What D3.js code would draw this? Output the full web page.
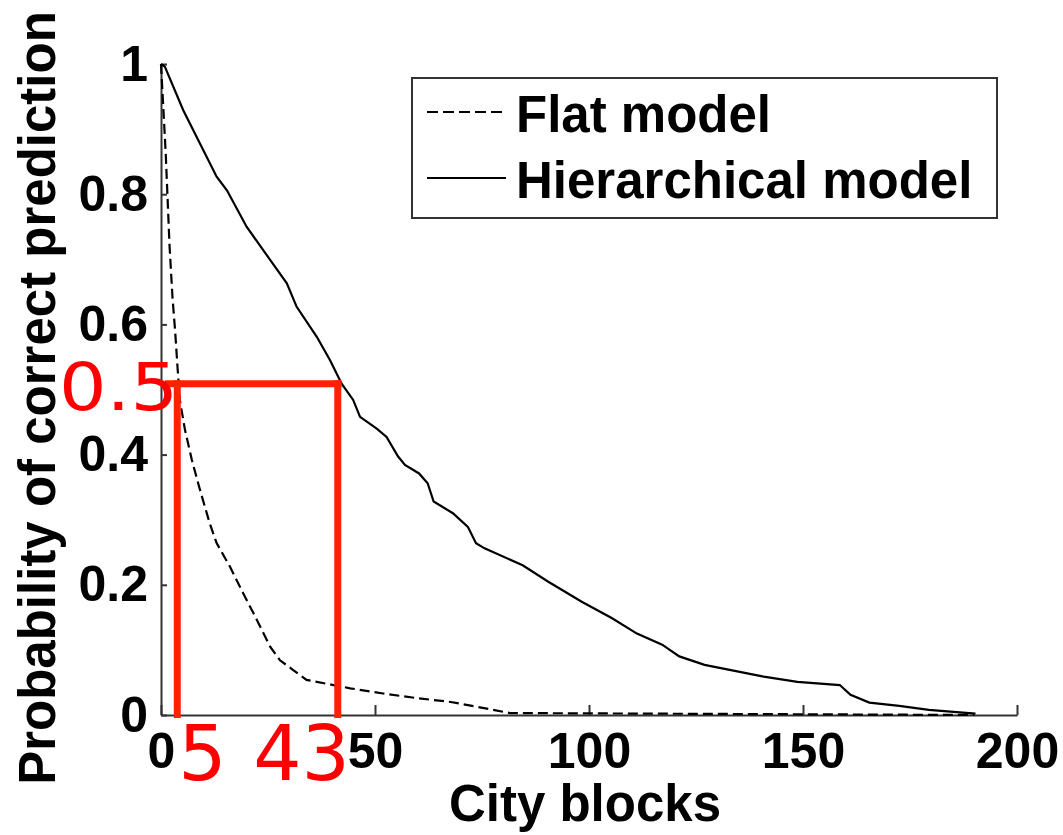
<!DOCTYPE html>
<html lang="en">
<head>
  <meta charset="UTF-8">
  <title>Probability of correct prediction vs city blocks</title>
  <script src="https://d3js.org/d3.v7.min.js"></script>
  <style>
    body {
      margin: 0;
      overflow: hidden;
      background: #fff;
    }
    svg {
      display: block;
    }
    .axis text {
      font-family: 'Liberation Sans', Arial, sans-serif;
      font-weight: bold;
      font-size: 50px;
      fill: #000;
    }
    .axis path, .axis line {
      stroke: #333;
      stroke-width: 2px;
    }
    .label {
      font-family: 'Liberation Sans', Arial, sans-serif;
      font-weight: bold;
      font-size: 51px;
      fill: #000;
    }
    .note {
      font-family: 'DejaVu Sans', sans-serif;
      fill: #ff0000;
    }
  </style>
</head>
<body>
<svg width="1063" height="835"></svg>
<script>
  // curves
  const flatX = [0, 1.1, 2.0, 2.7, 3.3, 3.9, 4.4, 5.6, 7.2, 9.1, 11.4, 13.0, 16.1, 19.2, 22.4, 25.5, 27.8, 30.9, 34.0, 40.3, 44.2, 51.9, 59.7, 67.7, 77.6, 81.5, 190];
  const flatY = [1.0, 0.863, 0.72, 0.64, 0.59, 0.53, 0.484, 0.438, 0.392, 0.346, 0.294, 0.264, 0.228, 0.187, 0.146, 0.105, 0.084, 0.069, 0.054, 0.046, 0.041, 0.033, 0.026, 0.020, 0.008, 0.003, 0.0];

  const hierX = [0, 0.9, 5.2, 13.0, 15.4, 20.0, 29.4, 31.7, 36.4, 39.5, 42.2, 44.9, 46.5, 50.4, 52.7, 55.4, 57.0, 60.3, 62.3, 63.7, 68.2, 71.7, 73.6, 75.6, 84.5, 90.4, 98.3, 105.3, 111.2, 117.1, 121.1, 127.0, 140.8, 148.7, 158.6, 161.1, 165.5, 172.5, 179.4, 190.3];
  const hierY = [1.0, 0.996, 0.929, 0.827, 0.806, 0.750, 0.663, 0.627, 0.581, 0.545, 0.509, 0.484, 0.458, 0.440, 0.427, 0.397, 0.384, 0.371, 0.356, 0.328, 0.310, 0.289, 0.264, 0.256, 0.230, 0.205, 0.174, 0.149, 0.125, 0.108, 0.090, 0.077, 0.059, 0.051, 0.046, 0.031, 0.019, 0.014, 0.008, 0.002];

  const xTicks = [0, 50, 100, 150, 200];
  const yTicks = [0, 0.2, 0.4, 0.6, 0.8, 1];

  const seriesNames = ["Flat model", "Hierarchical model"];

  // red hand-drawn markup over the chart
  const guideX = [3.8, 41.3];       // vertical red lines
  const guideSpan = [0.9, 42.2];    // horizontal red line extent
  const guideY = 0.509;
  const guideLabels = ["5", "43"];
  const guideYLabel = "0.5";

  const svg = d3.select("svg");
  svg.append("rect").attr("width", 1063).attr("height", 835).attr("fill", "#fff");

  const x = d3.scaleLinear().domain([0, 200]).range([161, 1017]);
  const y = d3.scaleLinear().domain([0, 1]).range([715, 64]);

  svg.append("g")
          .attr("class", "axis")
          .attr("transform", `translate(0,${y(0)})`)
          .call(d3.axisBottom(x).tickValues(xTicks).tickSizeInner(-10).tickSizeOuter(0).tickPadding(17));

  svg.append("g")
          .attr("class", "axis")
          .attr("transform", `translate(${x(0)},0)`)
          .call(d3.axisLeft(y).tickValues(yTicks).tickFormat(d3.format("~g")).tickSizeInner(-6).tickSizeOuter(0).tickPadding(13));

  const line = d3.line().x(d => x(d[0])).y(d => y(d[1]));

  svg.append("path")
          .datum(d3.zip(flatX, flatY))
          .attr("d", line)
          .attr("fill", "none")
          .attr("stroke", "#000")
          .attr("stroke-width", 2.2)
          .attr("stroke-dasharray", "10,5");

  svg.append("path")
          .datum(d3.zip(hierX, hierY))
          .attr("d", line)
          .attr("fill", "none")
          .attr("stroke", "#000")
          .attr("stroke-width", 2.2);

  // axis titles
  svg.append("text")
          .attr("class", "label")
          .attr("text-anchor", "middle")
          .attr("x", 585)
          .attr("y", 821)
          .text("City blocks");

  svg.append("text")
          .attr("class", "label")
          .attr("text-anchor", "middle")
          .attr("transform", "translate(55,398) rotate(-90)")
          .text("Probability of correct prediction");

  // legend
  const legend = svg.append("g");
  legend.append("rect")
          .attr("x", 412).attr("y", 78)
          .attr("width", 585).attr("height", 140)
          .attr("fill", "#fff")
          .attr("stroke", "#333")
          .attr("stroke-width", 2);

  seriesNames.forEach((name, i) => {
    const ly = 112 + i * 66;
    legend.append("line")
            .attr("x1", 427).attr("x2", 506)
            .attr("y1", ly).attr("y2", ly)
            .attr("stroke", "#000")
            .attr("stroke-width", 2.2)
            .attr("stroke-dasharray", i === 0 ? "11,5" : null);
    legend.append("text")
            .attr("class", "label")
            .attr("x", 516)
            .attr("y", ly + 20)
            .text(name);
  });

  // red markup
  const red = "#ff2200";
  svg.append("line")
          .attr("x1", x(guideSpan[0])).attr("x2", x(guideSpan[1]))
          .attr("y1", y(guideY)).attr("y2", y(guideY))
          .attr("stroke", red).attr("stroke-width", 7);

  svg.selectAll(".guide")
          .data(guideX)
          .join("line")
          .attr("class", "guide")
          .attr("x1", d => x(d)).attr("x2", d => x(d))
          .attr("y1", y(guideY) - 3.5).attr("y2", y(0) + 3)
          .attr("stroke", red).attr("stroke-width", 7);

  svg.append("text")
          .attr("class", "note")
          .attr("x", 59).attr("y", 410)
          .attr("font-size", 66)
          .attr("textLength", 119)
          .attr("lengthAdjust", "spacingAndGlyphs")
          .text(guideYLabel);

  const labelCenters = [202.5, 301.5];
  svg.selectAll(".guide-label")
          .data(guideLabels)
          .join("text")
          .attr("class", "note guide-label")
          .attr("text-anchor", "middle")
          .attr("x", (d, i) => labelCenters[i])
          .attr("y", 780)
          .attr("font-size", 76)
          .text(d => d);
</script>
</body>
</html>
